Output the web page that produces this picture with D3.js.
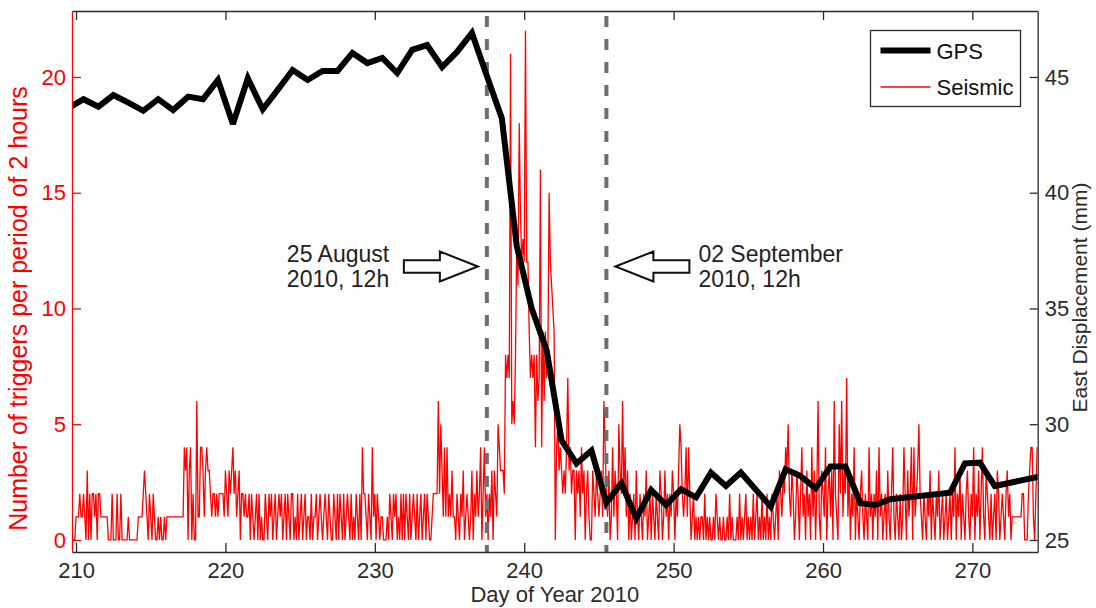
<!DOCTYPE html>
<html>
<head>
<meta charset="utf-8">
<script src="https://cdn.jsdelivr.net/npm/d3@7"></script>
<style>
  body { margin: 0; background: #fff; }
  svg { display: block; font-family: "Liberation Sans", Arial, sans-serif; }
</style>
</head>
<body>
<div id="chart"></div>
<script>
// GPS east displacement (mm), one value per day at 12h
const gpsDays = [209.5, 210.5, 211.5, 212.5, 213.5, 214.5, 215.5, 216.5, 217.5, 218.5,
  219.5, 220.5, 221.5, 222.5, 223.5, 224.5, 225.5, 226.5, 227.5, 228.5,
  229.5, 230.5, 231.5, 232.5, 233.5, 234.5, 235.5, 236.5, 237.5, 238.5,
  239.5, 240.5, 241.5, 242.5, 243.5, 244.5, 245.5, 246.5, 247.5, 248.5,
  249.5, 250.5, 251.5, 252.5, 253.5, 254.5, 256.5, 257.5, 258.5, 259.5,
  260.5, 261.5, 262.5, 263.5, 264.5, 268.5, 269.5, 270.5, 271.5, 274.5];
const gpsEast = [43.66, 44.04, 43.72, 44.22, 43.89, 43.54, 44.04, 43.57, 44.15, 44.04,
  44.87, 42.97, 44.94, 43.60, 44.44, 45.30, 44.87, 45.26, 45.26, 46.04,
  45.60, 45.82, 45.17, 46.17, 46.38, 45.43, 46.08, 46.90, 45.04, 43.22,
  37.70, 35.00, 33.20, 29.30, 28.30, 28.86, 26.60, 27.45, 25.94, 27.16,
  26.51, 27.19, 26.84, 27.91, 27.33, 27.91, 26.44, 28.05, 27.76, 27.23,
  28.17, 28.17, 26.59, 26.51, 26.76, 27.04, 28.31, 28.34, 27.33, 27.74];

// seismic triggers per 2-hour period, consecutive bins from day 209.75
const seisStart = 209.75;
const seisPre = [
  0,0,0,1,1,1,2,1,1,2,1,0,3,0,2,0,2,2,1,2,0,2,2,1,1,1,1,1,1,0,
  0,0,2,0,0,0,2,0,0,2,0,0,0,0,0,1,0,0,0,0,0,0,0,1,1,
  1,1,2,3,2,1,0,2,1,0,2,1,0,0,1,0,1,0,0,1,0,1,
  1,1,1,1,1,1,1,1,1,1,1,1,1,
  4,3,4,0,3,4,0,2,0,0,6,1,1,4,4,3,1,3,4,3,3,2,1,2,2,1,2,1,2,2,
  2,2,1,3,2,1,3,2,3,4,2,3,1,2,3,0,2,2,1,2,1,
  1,2,0,2,1,0,1,2,0,2,0,1,0,0,2,1,0,2,1,2,0,1,2,0,1,2,1,
  2,0,1,2,0,2,1,0,2,2,0,1,0,2,0,1,2,0,1,
  2,0,1,1,0,2,0,1,1,2,0,1,2,1,0,1,2,1,0,2,1,0,0,2,1,0,2,
  0,2,1,0,2,0,1,2,1,0,2,0,1,0,2,1,0,2,0,4,2,
  2,1,0,2,1,0,4,1,2,0,2,1,0,
  1,1,0,0,0,1,0,2,1,0,2,1,2,0,1,0,2,0,2,
  0,2,1,0,2,0,1,2,1,0,2,0,1,2,0,1,2,0,2,1,0,0,1,2,2,2,2,
  6,2,5,3,1,4,1,4,1,2,1,3,1,1,0,2,
  1,0,2,1,3,0,1,2,1,0,1,3,0,2,1,3,1,2,4,0,2];
const seisSwarm = [
  4,1,2,0,2,1,3,0,3,2, 1,5,4,3,3,3,2,8,7,8, 7,21,5,6,5,8,13,11,18,14,
  12,13,12,22,12,12,9,7,8,7, 8,4,8,6,7,16,4,9,6,9, 7,8,15,12,11,10,9,0,4,5,
  3,4,3,2,3,2,4,7,3,4, 2,3,3,0,3,2,3,1,4,2, 3,0,2,3,1,0,0,3,2,1,
  3,2,1,2,3,1,6,4,2,1, 3,0,1,4];
const seisPost = [
  1,3,2,0,5,3,2,
  6,2,4,1,3,0,2,0,1,2,0,3,1,
  0,2,1,0,2,1,3,0,1,2,0,2,1,0,2,1,0,3,2,
  0,1,3,1,2,0,2,1,3,2,0,2,1,3,5,4,2,1,2,4,1,4,2,0,1,2,0,
  1,0,1,0,1,1,0,2,0,1,0,1,0,0,1,0,2,1,0,1,0,0,1,0,0,1,0,2,0,1,0,0,0,1,0,2,0,1,0,1,2,0,1,0,1,0,2,0,1,2,0,1,0,
  2,0,1,0,2,0,1,0,2,1,0,1,2,0,3,2,1,3,2,4,3,5,2,1,3,2,0,
  1,3,2,0,2,4,1,2,0,3,1,2,0,4,1,3,0,2,6,1,0,3,2,1,4,0,2,3,1,3,0,6,2,1,0,5,2,6,1,3,
  2,7,1,3,0,2,1,4,0,2,1,0,2,3,1,0,2,1,0,4,1,2,0,2,1,3,0,4,1,2,0,1,2,0,3,1,0,2,4,1,0,2,1,0,2,0,1,
  4,2,0,3,1,2,4,0,4,1,2,3,5,2,1,0,2,1,0,2,1,3,0,2,1,0,2,1,3,0,1,2,0,1,2,0,1,2,0,2,
  1,4,0,2,1,3,0,2,1,0,2,3,1,0,2,1,4,0,2,1,3,0,2,4,1,0,3,2,1,0,2,0,1,2,0,3,2,0,1,2,
  1,0,2,3,1,2,0,1,1,1,1,1,1,1,1,2,2,0,0,0,2,3,4,4,1,0,2,4];

const xTicks = [210, 220, 230, 240, 250, 260, 270];
const leftTicks = [0, 5, 10, 15, 20];
const rightTicks = [25, 30, 35, 40, 45];
const markerDays = [237.5, 245.5];
const markerLabels = [["25 August", "2010, 12h"], ["02 September", "2010, 12h"]];
const legendLabels = ["GPS", "Seismic"];

const width = 1096;
const height = 608;
const red = "#ff0000";
const axisColor = "#2b2b2b";

const svg = d3.select("#chart")
  .append("svg")
    .attr("width", width)
    .attr("height", height);

// scales: left = triggers, right = displacement (mm)
const x = d3.scaleLinear().domain([209.73, 274.37]).range([72, 1037.7]);
const yL = d3.scaleLinear().domain([-0.52, 22.85]).range([552, 11]);
const yR = d3.scaleLinear().domain([24.48, 47.85]).range([552, 11]);

const [x0, x1] = x.range();
const [y0, y1] = yL.range();

svg.append("clipPath").attr("id", "plot")
  .append("rect")
    .attr("x", x0).attr("y", y1)
    .attr("width", x1 - x0).attr("height", y0 - y1);

// seismic series
const seis = seisPre.concat(seisSwarm, seisPost)
  .map((v, i) => ({ t: seisStart + i / 12, v }));

svg.append("path")
  .datum(seis)
  .attr("clip-path", "url(#plot)")
  .attr("fill", "none")
  .attr("stroke", red)
  .attr("stroke-width", 1.3)
  .attr("d", d3.line().x(d => x(d.t)).y(d => yL(d.v)));

// dashed date markers
svg.append("g").selectAll("line")
  .data(markerDays)
  .join("line")
    .attr("x1", d => x(d)).attr("x2", d => x(d))
    .attr("y1", y1 + 5).attr("y2", y0)
    .attr("stroke", "#6e6e6e")
    .attr("stroke-width", 4)
    .attr("stroke-dasharray", "11,12");

// GPS series
const gps = gpsDays.map((d, i) => ({ t: d, v: gpsEast[i] }));
svg.append("path")
  .datum(gps)
  .attr("clip-path", "url(#plot)")
  .attr("fill", "none")
  .attr("stroke", "#000")
  .attr("stroke-width", 6)
  .attr("stroke-linejoin", "miter")
  .attr("stroke-miterlimit", 3)
  .attr("d", d3.line().x(d => x(d.t)).y(d => yR(d.v)));

// axes, ticks point inwards
const styleAxis = (g, color, size) => {
  g.selectAll("path.domain").attr("stroke", color).attr("stroke-width", 1.3);
  g.selectAll(".tick line").attr("stroke", color).attr("stroke-width", 1.3);
  g.selectAll(".tick text")
    .attr("fill", color)
    .attr("font-size", size)
    .attr("font-family", "'Liberation Sans', Arial, sans-serif");
};

svg.append("g")
  .attr("transform", `translate(0,${y0})`)
  .call(d3.axisBottom(x).tickValues(xTicks).tickSizeInner(-9).tickSizeOuter(0).tickPadding(10.5))
  .call(g => styleAxis(g, axisColor, 22));

svg.append("g")
  .attr("transform", `translate(0,${y1})`)
  .call(d3.axisTop(x).tickValues(xTicks).tickSizeInner(-9).tickSizeOuter(0).tickFormat(""))
  .call(g => styleAxis(g, axisColor, 22));

svg.append("g")
  .attr("transform", `translate(${x1},0)`)
  .call(d3.axisRight(yR).tickValues(rightTicks).tickSizeInner(-8).tickSizeOuter(0).tickPadding(7))
  .call(g => styleAxis(g, axisColor, 22));

svg.append("g")
  .attr("transform", `translate(${x0},0)`)
  .call(d3.axisLeft(yL).tickValues(leftTicks).tickSizeInner(-9).tickSizeOuter(0).tickPadding(6))
  .call(g => styleAxis(g, red, 22));

// axis titles
svg.append("text")
  .attr("x", (x0 + x1) / 2).attr("y", 602)
  .attr("text-anchor", "middle")
  .attr("font-size", 22).attr("fill", axisColor)
  .text("Day of Year 2010");

svg.append("text")
  .attr("transform", `translate(27,${(y0 + y1) / 2 + 27}) rotate(-90)`)
  .attr("text-anchor", "middle")
  .attr("font-size", 25).attr("fill", red)
  .text("Number of triggers per period of 2 hours");

svg.append("text")
  .attr("transform", `translate(1087,${(y0 + y1) / 2 + 16}) rotate(-90)`)
  .attr("text-anchor", "middle")
  .attr("font-size", 21).attr("fill", axisColor)
  .text("East Displacement (mm)");

// hollow arrows pointing at the markers
const arrow = (tip, dir, cy) => {
  const head = 38, len = 74, hw = 15, sw = 6.3;
  const p = (dx, dy) => [tip - dir * dx, cy + dy];
  return "M" + [p(0, 0), p(head, -hw), p(head, -sw), p(len, -sw),
    p(len, sw), p(head, sw), p(head, hw)].map(q => q.join(",")).join("L") + "Z";
};

const ann = svg.append("g");
markerDays.forEach((d, i) => {
  const dir = i === 0 ? 1 : -1;
  const tip = x(d) - dir * 9;
  ann.append("path")
    .attr("d", arrow(tip, dir, 266.5))
    .attr("fill", "#fff")
    .attr("stroke", "#111")
    .attr("stroke-width", 2);
  const tx = i === 0 ? tip - 74 - 117 : tip + 74 + 9;
  ann.append("text")
    .attr("x", tx).attr("y", 261.5)
    .attr("font-size", 23).attr("fill", "#222")
    .selectAll("tspan")
    .data(markerLabels[i])
    .join("tspan")
      .attr("x", tx)
      .attr("dy", (s, j) => j === 0 ? 0 : 25.5)
      .text(s => s);
});

// legend
const legend = svg.append("g").attr("transform", "translate(870.5,30.5)");
legend.append("rect")
  .attr("width", 150).attr("height", 76)
  .attr("fill", "#fff")
  .attr("stroke", axisColor).attr("stroke-width", 1.3);

legendLabels.forEach((label, i) => {
  const ly = 20 + i * 36.5;
  legend.append("line")
    .attr("x1", 10).attr("x2", 60)
    .attr("y1", ly).attr("y2", ly)
    .attr("stroke", i === 0 ? "#000" : red)
    .attr("stroke-width", i === 0 ? 6 : 1.5);
  legend.append("text")
    .attr("x", 66).attr("y", ly + 8)
    .attr("font-size", 22).attr("fill", "#111")
    .text(label);
});
</script>
</body>
</html>
